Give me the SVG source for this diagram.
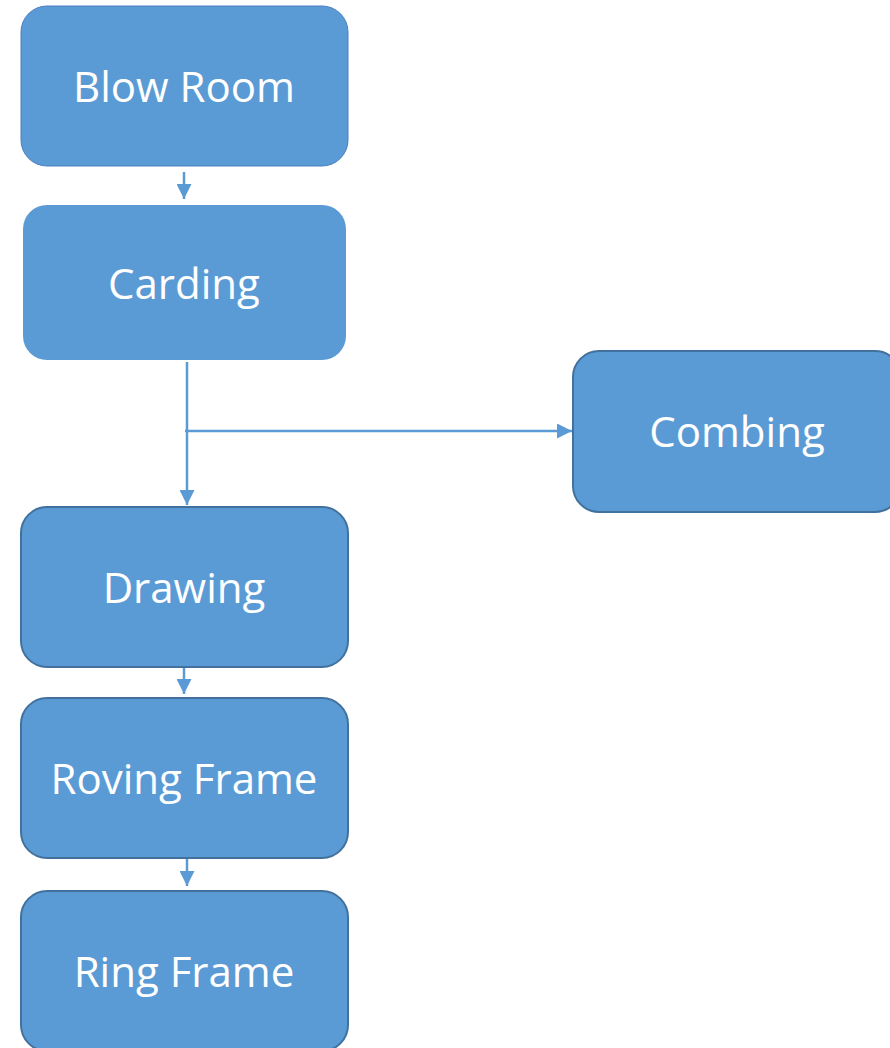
<svg xmlns="http://www.w3.org/2000/svg" width="890" height="1048" viewBox="0 0 890 1048">
<style>
.box{fill:#5b9bd5;stroke:#41719c;stroke-width:2}
.lbl{font-family:"Open Sans","Liberation Sans",sans-serif;font-size:42px;fill:#ffffff;text-anchor:middle}
.conn{stroke:#5b9bd5;stroke-width:2.5;fill:none}
</style>
<defs>
<marker id="ah" viewBox="0 0 10 10" refX="10" refY="5" markerWidth="6" markerHeight="6" markerUnits="strokeWidth" orient="auto">
<path d="M0,0 L10,5 L0,10 z" fill="#5b9bd5"/>
</marker>
</defs>
<rect width="890" height="1048" fill="#ffffff"/>
<g id="connectors">
<line class="conn" x1="184" y1="172" x2="184" y2="199" marker-end="url(#ah)"/>
<line class="conn" x1="187" y1="362" x2="187" y2="505" marker-end="url(#ah)"/>
<line class="conn" x1="185" y1="431" x2="572" y2="431" marker-end="url(#ah)"/>
<line class="conn" x1="184" y1="668" x2="184" y2="694" marker-end="url(#ah)"/>
<line class="conn" x1="187" y1="859" x2="187" y2="886" marker-end="url(#ah)"/>
</g>
<g id="blow-room">
<rect class="box" x="21" y="6" width="327" height="160" rx="26" style="stroke:#4a7fc1;stroke-width:1"/>
<text class="lbl" x="184" y="102">Blow Room</text>
</g>
<g id="carding">
<rect class="box" x="23" y="205" width="323" height="155" rx="24" style="stroke:none"/>
<text class="lbl" x="184" y="299">Carding</text>
</g>
<g id="combing">
<rect class="box" x="573" y="351" width="328" height="161" rx="26"/>
<text class="lbl" x="737" y="447">Combing</text>
</g>
<g id="drawing">
<rect class="box" x="21" y="507" width="327" height="160" rx="26"/>
<text class="lbl" x="184" y="603">Drawing</text>
</g>
<g id="roving-frame">
<rect class="box" x="21" y="698" width="327" height="160" rx="26"/>
<text class="lbl" x="184" y="794">Roving Frame</text>
</g>
<g id="ring-frame">
<rect class="box" x="21" y="891" width="327" height="160" rx="26"/>
<text class="lbl" x="184" y="987">Ring Frame</text>
</g>
</svg>
